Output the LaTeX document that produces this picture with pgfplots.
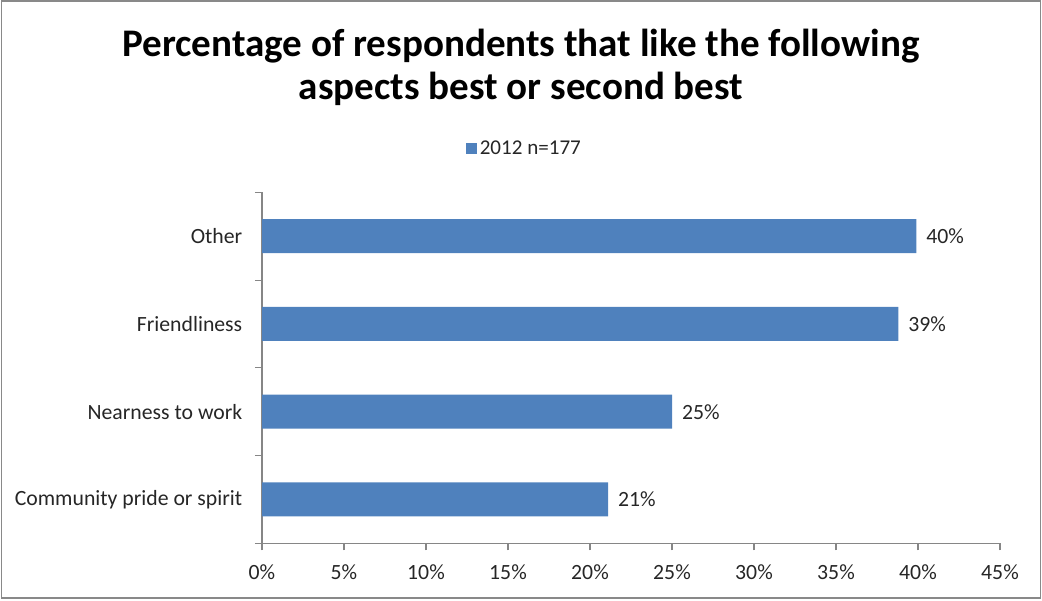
\documentclass[border=0pt]{standalone}
\usepackage{pgfplots}
\pgfplotsset{compat=1.18}
\usepackage{fontspec}
\setmainfont{Carlito}
\definecolor{barblue}{HTML}{4F81BD}
\definecolor{axgray}{HTML}{868686}
\definecolor{framegray}{HTML}{898989}
\begin{document}
\begin{tikzpicture}
\path (0pt,0pt) rectangle (781.5pt,450pt);
\draw[framegray,line width=1.3pt] (1.1pt,1.5pt) rectangle (780.4pt,449.6pt);
\node[align=center,font=\fontsize{29.3}{32.5}\selectfont\bfseries] at (390.75pt,399.75pt) {Percentage of respondents that like the following\\aspects best or second best};
\begin{axis}[
  at={(196.5pt,42.75pt)}, anchor=south west,
  scale only axis, width=553.5pt, height=263.25pt,
  xmin=0, xmax=45, ymin=-0.5, ymax=3.5,
  axis lines*=left,
  axis line style={-,axgray,line width=0.8pt},
  xtick={0,5,...,45},
  xticklabel={\pgfmathprintnumber{\tick}\%},
  /pgf/number format/assume math mode=true,
  ytick={0,1,2,3},
  yticklabels={Community pride or spirit,Nearness to work,Friendliness,Other},
  minor ytick={-0.5,0.5,1.5,2.5,3.5},
  tick align=outside,
  major tick length=5.25pt,
  minor tick length=5.25pt,
  y tick style={draw=none},
  minor y tick style={draw=axgray,line width=0.8pt},
  x tick style={axgray,line width=0.8pt},
  xtick pos=bottom,
  ytick pos=left,
  tick label style={font=\fontsize{16.3}{18}\selectfont,text=black!85},
  yticklabel style={xshift=-6pt},
  xticklabel style={yshift=-7pt},
  xbar, bar width=25.5pt,
  nodes near coords={\pgfmathprintnumber[fixed,precision=0]{\pgfplotspointmeta}\%},
  nodes near coords style={font=\fontsize{16.3}{18}\selectfont,text=black!85,xshift=4pt},
  legend style={at={(0.356,1.125)},anchor=center,draw=none,fill=none,
    font=\fontsize{15.8}{18}\selectfont,text=black!85,
    legend cell align=left, inner sep=0pt},
  legend image code/.code={\fill[barblue] (-2pt,-4.2pt) rectangle (6.4pt,4.2pt);},
]
\addplot[fill=barblue,draw=none] coordinates {(21.1,0) (25.0,1) (38.8,2) (39.9,3)};
\addlegendentry{2012 n=177}
\end{axis}
\end{tikzpicture}
\end{document}
